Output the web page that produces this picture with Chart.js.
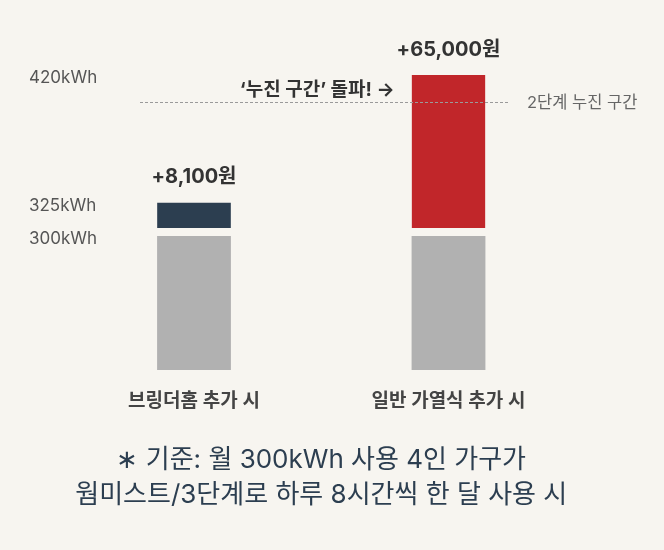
<!DOCTYPE html>
<html lang="ko">
<head>
<meta charset="utf-8">
<title>누진 구간 비교</title>
<script src="https://cdn.jsdelivr.net/npm/chart.js@4.4.1/dist/chart.umd.min.js"></script>
<style>
  html, body { margin: 0; padding: 0; background: #f7f5f0; }
  #wrap { width: 664px; height: 550px; }
</style>
</head>
<body>
<div id="wrap"><canvas id="usageChart"></canvas></div>
<script>
// 데이터
const categories = ['브링더홈 추가 시', '일반 가열식 추가 시'];
const baseUsage = [300, 300];       // kWh, 기존 사용량
const totalUsage = [325, 420];      // kWh, 추가 후 사용량
const extraCost = [8100, 65000];    // 원, 추가 요금
const kwhTicks = [300, 325, 420];
const tierLimit = 400;              // 2단계 누진 구간 경계
const tierLabel = '2단계 누진 구간';
const breakLabel = '\u2018누진 구간\u2019 돌파! \u2192';
const footNote = ['\u2217 기준: 월 300kWh 사용 4인 가구가', '웜미스트/3단계로 하루 8시간씩 한 달 사용 시'];

const bg = '#f7f5f0';
const fontFamily = "Inter, 'Noto Sans CJK KR', sans-serif";

const annotate = {
  id: 'annotate',
  beforeDraw(chart) {
    const ctx = chart.ctx;
    ctx.save();
    ctx.fillStyle = bg;
    ctx.fillRect(0, 0, chart.width, chart.height);
    ctx.restore();
  },
  afterDatasetsDraw(chart) {
    const ctx = chart.ctx;
    const y = chart.scales.y;
    const bars = chart.getDatasetMeta(1).data;
    ctx.save();

    // 누진 구간 점선
    const ly = Math.round(y.getPixelForValue(tierLimit)) + 0.5;
    ctx.strokeStyle = '#9a9a9a';
    ctx.lineWidth = 1;
    ctx.setLineDash([3, 2]);
    ctx.beginPath();
    ctx.moveTo(140, ly);
    ctx.lineTo(509, ly);
    ctx.stroke();
    ctx.setLineDash([]);
    ctx.font = '400 16.5px ' + fontFamily;
    ctx.fillStyle = '#666';
    ctx.textAlign = 'left';
    ctx.textBaseline = 'middle';
    ctx.fillText(tierLabel, 527, ly + 1);

    // 추가 요금
    ctx.font = '700 20px ' + fontFamily;
    ctx.fillStyle = '#333';
    ctx.textAlign = 'center';
    bars.forEach((bar, i) => {
      ctx.fillText('+' + extraCost[i].toLocaleString('en-US') + '원', bar.x, bar.y - 25);
    });

    // 돌파 화살표
    const last = bars[bars.length - 1];
    ctx.font = '700 19px ' + fontFamily;
    ctx.textAlign = 'right';
    ctx.fillText(breakLabel, last.x - last.width / 2 - 17, last.y + 15);

    // kWh 눈금
    ctx.font = '400 17px ' + fontFamily;
    ctx.fillStyle = '#555';
    ctx.textAlign = 'left';
    kwhTicks.forEach(v => {
      ctx.fillText(v + 'kWh', 29, y.getPixelForValue(v) + 3);
    });
    ctx.restore();
  }
};

new Chart(document.getElementById('usageChart'), {
  type: 'bar',
  data: {
    labels: categories,
    datasets: [{
      label: '기존 사용량',
      data: baseUsage,
      backgroundColor: '#b1b1b1',
      borderWidth: 0
    }, {
      label: '추가 사용량',
      data: baseUsage.map((b, i) => [b, totalUsage[i]]),
      backgroundColor: ['#2c3e50', '#c1262a'],
      borderColor: bg,
      borderWidth: { top: 0, right: 0, bottom: 8, left: 0 },
      borderSkipped: false
    }]
  },
  options: {
    responsive: true,
    maintainAspectRatio: false,
    animation: false,
    datasets: { bar: { categoryPercentage: 1, barPercentage: 0.29 } },
    layout: { padding: { top: 61.6, bottom: 37.5, left: 66.75, right: 88.25 } },
    scales: {
      x: {
        stacked: true,
        grid: { display: false, drawTicks: false },
        border: { display: false },
        ticks: {
          padding: 20,
          color: '#444',
          font: { family: fontFamily, size: 19, weight: '600' }
        },
        afterFit(scale) { scale.height = 72.3; }
      },
      y: {
        stacked: false,
        display: false,
        min: 200,
        max: 430
      }
    },
    plugins: {
      legend: { display: false },
      tooltip: { enabled: false },
      title: {
        display: true,
        position: 'bottom',
        text: footNote,
        color: '#2c3e50',
        padding: 0,
        font: { family: fontFamily, size: 26, weight: '400', lineHeight: 1.35 }
      }
    }
  },
  plugins: [annotate]
});
</script>
</body>
</html>
